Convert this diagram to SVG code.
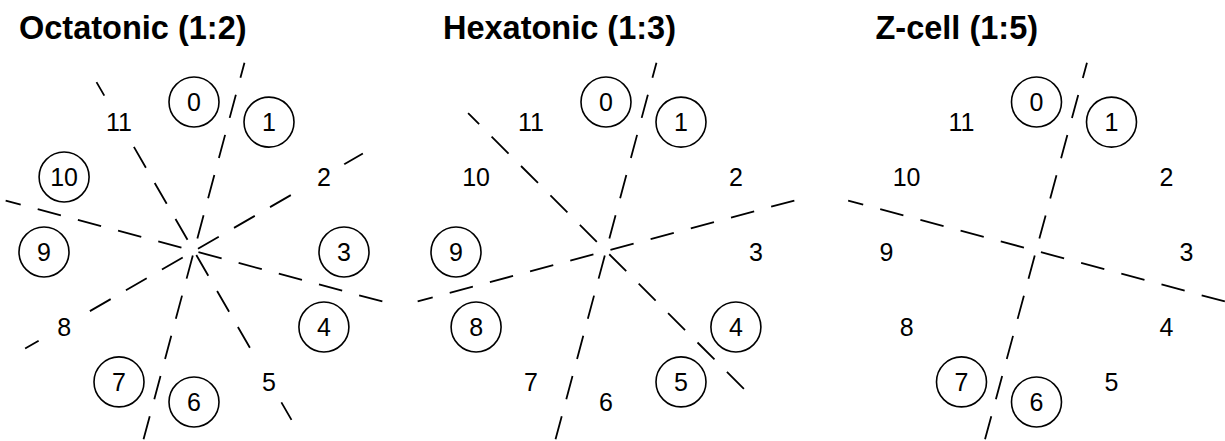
<svg xmlns="http://www.w3.org/2000/svg" width="1225" height="441" viewBox="0 0 1225 441">
<style>
.ln{stroke:#000;stroke-width:1.8;stroke-dasharray:24 17.6;fill:none}
.c{fill:#fff;stroke:#000;stroke-width:1.6}
.u{fill:#fff;stroke:none}
.t{font-family:"Liberation Sans",Arial,Helvetica,sans-serif;font-size:25px;text-anchor:middle;fill:#000}
.ti{font-family:"Liberation Sans",Arial,Helvetica,sans-serif;font-size:32.5px;font-weight:bold;fill:#000}
</style>
<rect width="1225" height="441" fill="#fff"/>
<g id="titles">
<text class="ti" x="19" y="38.5">Octatonic (1:2)</text>
<text class="ti" x="443" y="38.5">Hexatonic (1:3)</text>
<text class="ti" x="875.5" y="38.5">Z-cell (1:5)</text>
</g>
<g id="connectors">
<line class="ln" x1="143.53" y1="439.35" x2="244.47" y2="62.65"/>
<line class="ln" x1="382.35" y1="301.47" x2="5.65" y2="200.53"/>
<line class="ln" x1="362.87" y1="153.5" x2="25.13" y2="348.5"/>
<line class="ln" x1="291.5" y1="419.87" x2="96.5" y2="82.13"/>
<line class="ln" x1="555.53" y1="439.35" x2="656.47" y2="62.65"/>
<line class="ln" x1="794.35" y1="200.53" x2="417.65" y2="301.47"/>
<line class="ln" x1="743.89" y1="388.89" x2="468.11" y2="113.11"/>
<line class="ln" x1="985.03" y1="439.35" x2="1086.97" y2="62.65"/>
<line class="ln" x1="1224.85" y1="301.47" x2="848.15" y2="200.53"/>
</g>
<g id="octatonic">
<g id="o0" transform="translate(194,102)"><circle class="c" r="25"/><text class="t" y="9">0</text></g>
<g id="o1" transform="translate(269,122.1)"><circle class="c" r="25"/><text class="t" y="9">1</text></g>
<g id="o2" transform="translate(323.9,177)"><circle class="u" r="24"/><text class="t" y="9">2</text></g>
<g id="o3" transform="translate(344,252)"><circle class="c" r="25"/><text class="t" y="9">3</text></g>
<g id="o4" transform="translate(323.9,327)"><circle class="c" r="25"/><text class="t" y="9">4</text></g>
<g id="o5" transform="translate(269,381.9)"><circle class="u" r="24"/><text class="t" y="9">5</text></g>
<g id="o6" transform="translate(194,402)"><circle class="c" r="25"/><text class="t" y="9">6</text></g>
<g id="o7" transform="translate(119,381.9)"><circle class="c" r="25"/><text class="t" y="9">7</text></g>
<g id="o8" transform="translate(64.1,327)"><circle class="u" r="24"/><text class="t" y="9">8</text></g>
<g id="o9" transform="translate(44,252)"><circle class="c" r="25"/><text class="t" y="9">9</text></g>
<g id="o10" transform="translate(64.1,177)"><circle class="c" r="25"/><text class="t" y="9">10</text></g>
<g id="o11" transform="translate(119,122.1)"><circle class="u" r="24"/><text class="t" y="9">11</text></g>
</g>
<g id="hexatonic">
<g id="h0" transform="translate(606,102)"><circle class="c" r="25"/><text class="t" y="9">0</text></g>
<g id="h1" transform="translate(681,122.1)"><circle class="c" r="25"/><text class="t" y="9">1</text></g>
<g id="h2" transform="translate(735.9,177)"><text class="t" y="9">2</text></g>
<g id="h3" transform="translate(756,252)"><text class="t" y="9">3</text></g>
<g id="h4" transform="translate(735.9,327)"><circle class="c" r="25"/><text class="t" y="9">4</text></g>
<g id="h5" transform="translate(681,381.9)"><circle class="c" r="25"/><text class="t" y="9">5</text></g>
<g id="h6" transform="translate(606,402)"><text class="t" y="9">6</text></g>
<g id="h7" transform="translate(531,381.9)"><text class="t" y="9">7</text></g>
<g id="h8" transform="translate(476.1,327)"><circle class="c" r="25"/><text class="t" y="9">8</text></g>
<g id="h9" transform="translate(456,252)"><circle class="c" r="25"/><text class="t" y="9">9</text></g>
<g id="h10" transform="translate(476.1,177)"><text class="t" y="9">10</text></g>
<g id="h11" transform="translate(531,122.1)"><text class="t" y="9">11</text></g>
</g>
<g id="zcell">
<g id="z0" transform="translate(1036.5,102)"><circle class="c" r="25"/><text class="t" y="9">0</text></g>
<g id="z1" transform="translate(1111.5,122.1)"><circle class="c" r="25"/><text class="t" y="9">1</text></g>
<g id="z2" transform="translate(1166.4,177)"><text class="t" y="9">2</text></g>
<g id="z3" transform="translate(1186.5,252)"><text class="t" y="9">3</text></g>
<g id="z4" transform="translate(1166.4,327)"><text class="t" y="9">4</text></g>
<g id="z5" transform="translate(1111.5,381.9)"><text class="t" y="9">5</text></g>
<g id="z6" transform="translate(1036.5,402)"><circle class="c" r="25"/><text class="t" y="9">6</text></g>
<g id="z7" transform="translate(961.5,381.9)"><circle class="c" r="25"/><text class="t" y="9">7</text></g>
<g id="z8" transform="translate(906.6,327)"><text class="t" y="9">8</text></g>
<g id="z9" transform="translate(886.5,252)"><text class="t" y="9">9</text></g>
<g id="z10" transform="translate(906.6,177)"><text class="t" y="9">10</text></g>
<g id="z11" transform="translate(961.5,122.1)"><text class="t" y="9">11</text></g>
</g>
</svg>
